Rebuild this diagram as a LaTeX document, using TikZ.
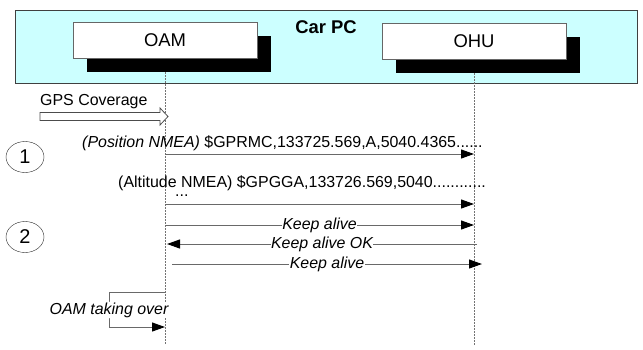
\documentclass[tikz,border=0pt]{standalone}
\usepackage{fontspec}
\setmainfont{Liberation Sans}
\definecolor{carcyan}{RGB}{204,255,255}
\definecolor{msggray}{RGB}{105,105,105}
\usetikzlibrary{arrows.meta,positioning,shapes.geometric,shadows}

\begin{document}
\begin{tikzpicture}[x=1bp,y=-1bp,
  carpc/.style={draw=black!75,line width=1bp,fill=carcyan,minimum width=621bp,minimum height=73bp},
  unitbox/.style={draw=black!60,fill=white,minimum width=184bp,minimum height=36bp,
    font=\fontsize{18.5}{21}\selectfont,
    drop shadow={shadow xshift=14bp,shadow yshift=-14bp,fill=black,opacity=1}},
  lifeline/.style={draw=black!55,line width=0.8bp,dash pattern=on 2bp off 1bp},
  msg/.style={draw=msggray,line width=1bp,-{Triangle[length=13bp,width=9bp,color=black,fill=black]}},
  msgtext/.style={font=\fontsize{16}{19}\selectfont,inner sep=0pt},
  onlabel/.style={fill=white,inner sep=0.5bp,font=\fontsize{16}{19}\selectfont\itshape},
  stepmark/.style={draw=black!85,ellipse,minimum width=38bp,minimum height=31bp,inner sep=0pt,
    font=\fontsize{20}{22}\selectfont}
]
  \useasboundingbox (0,0) rectangle (643,349);

  % Car PC with its two units
  \node[carpc] (carpc) at (326.5,46.5) {};
  \node[font=\fontsize{18.5}{21}\selectfont\bfseries] (carpclabel) at (326,27) {Car PC};
  \node[unitbox] (oam) at (165,40) {OAM};
  \node[unitbox] (ohu) at (474,41) {OHU};

  % Lifelines
  \coordinate (bottom) at (0,345);
  \draw[lifeline] ([yshift=-14bp]oam.south) -- (oam.south |- bottom);
  \draw[lifeline] ([yshift=-14bp]ohu.south) -- (ohu.south |- bottom);

  % Rows of messages
  \coordinate (r-pos) at (0,154);
  \coordinate (r-alt) at (0,204);
  \coordinate (r-ka) at (0,225);
  \coordinate (r-kaok) at (0,244);
  \coordinate (r-kb) at (0,264);
  \coordinate (r-tk) at (0,292);
  \coordinate (r-tkb) at (0,327);

  % GPS coverage
  \node[msgtext,anchor=base west] (gpstext) at (40,105) {GPS Coverage};
  \draw[draw=black!70,line width=0.8bp,fill=white] (40,112.5) -- (160,112.5) -- (160,108) -- (168,116.5)
    -- (160,125) -- (160,120.5) -- (40,120.5) -- cycle;

  % Phase 1
  \node[stepmark] (step1) at (25,157) {1};
  \node[msgtext,anchor=base west] (postext) at (82,147)
    {\textit{(Position NMEA)} \$GPRMC,133725.569,A,5040.4365......};
  \draw[msg] (oam.south |- r-pos) -- (ohu.south |- r-pos);
  \node[msgtext,anchor=base west] (alttext) at (118,187)
    {(Altitude NMEA) \$GPGGA,133726.569,5040............};
  \node[msgtext,anchor=base west] (moretext) at (175,196) {...};
  \draw[msg] (oam.south |- r-alt) -- (ohu.south |- r-alt);

  % Phase 2
  \node[stepmark] (step2) at (25,237) {2};
  \draw[msg] (oam.south |- r-ka) -- node[onlabel] {Keep alive} (ohu.south |- r-ka);
  \draw[msg] ([xshift=3bp]ohu.south |- r-kaok) -- node[onlabel] {Keep alive OK} ([xshift=2bp]oam.south |- r-kaok);
  \draw[msg] ([xshift=7bp]oam.south |- r-kb) -- node[onlabel] {Keep alive} ([xshift=8bp]ohu.south |- r-kb);

  % Take over
  \coordinate (takeover) at (109,310);
  \draw[msg] (oam.south |- r-tk) -| (takeover) node[onlabel] {OAM taking over} |- (oam.south |- r-tkb);
\end{tikzpicture}
\end{document}
